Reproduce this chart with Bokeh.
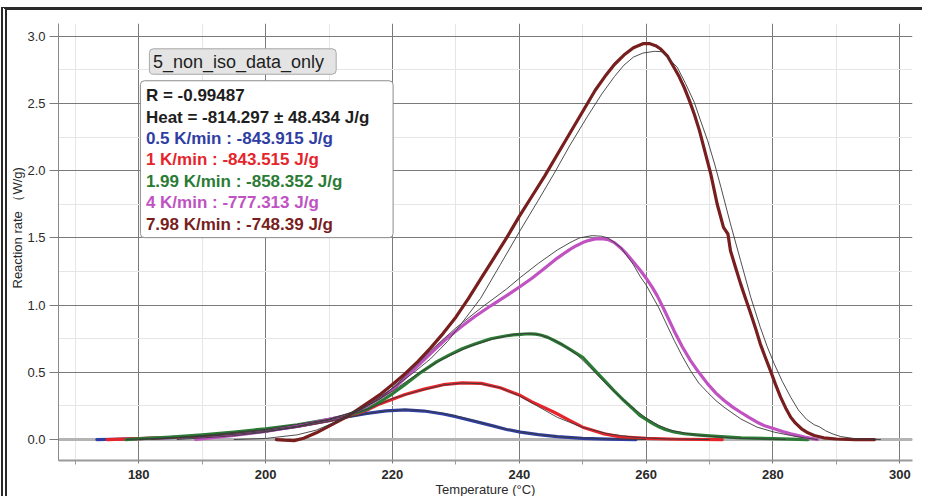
from bokeh.plotting import figure
from bokeh.models import Range1d, FixedTicker, PrintfTickFormatter, Span, BoxAnnotation, Label, Title
from bokeh.embed import file_html
from bokeh.resources import INLINE

# ---------------- data ----------------
series_names = ["0.5 K/min", "1 K/min", "1.99 K/min", "4 K/min", "7.98 K/min"]
series_heat = ["-843.915 J/g", "-843.515 J/g", "-858.352 J/g", "-777.313 J/g", "-748.39 J/g"]
r_text = "R = -0.99487"
heat_text = "Heat = -814.297 \u00b1 48.434 J/g"
title_text = "5_non_iso_data_only"
x_title = "Temperature (\u00b0C)"
y_title = "Reaction rate \uff08W/g)"

# measured curves (thick, coloured)
blue_T = [173.4, 176, 180, 185, 190, 195, 200, 205, 210, 213, 216, 219, 222, 225, 228, 230, 233, 236, 238, 240.2, 243, 246, 250, 254, 258.4]
blue_R = [0.0, 0.002, 0.006, 0.014, 0.025, 0.042, 0.065, 0.098, 0.14, 0.17, 0.195, 0.213, 0.221, 0.212, 0.19, 0.17, 0.135, 0.1, 0.075, 0.055, 0.036, 0.021, 0.008, 0.003, 0.0]

red_T = [175, 180, 185, 190, 195, 200, 205, 210, 213, 216, 218, 220, 222, 225, 228, 231, 234, 237, 240.2, 242, 245.5, 248, 250, 253.4, 256, 260, 265, 272]
red_R = [0.0, 0.006, 0.015, 0.028, 0.045, 0.07, 0.1, 0.142, 0.172, 0.22, 0.265, 0.3, 0.335, 0.375, 0.408, 0.422, 0.418, 0.385, 0.327, 0.28, 0.203, 0.14, 0.092, 0.042, 0.02, 0.008, 0.002, 0.0]

green_T = [178, 180, 185, 190, 195, 200, 205, 210, 213, 216, 218, 220, 222, 224.5, 227, 229, 231, 233, 235.5, 238, 239, 240.2, 241, 241.8, 242.6, 243.5, 244.5, 245.5, 246.8, 248, 250, 251.8, 253.4, 255, 256.5, 258, 259, 260, 261, 262, 263, 264.4, 266, 268, 270, 275, 280, 285.5]
green_R = [0.0, 0.006, 0.018, 0.035, 0.056, 0.08, 0.11, 0.15, 0.178, 0.225, 0.28, 0.34, 0.41, 0.5, 0.58, 0.63, 0.675, 0.71, 0.75, 0.772, 0.778, 0.782, 0.785, 0.786, 0.784, 0.776, 0.76, 0.737, 0.705, 0.67, 0.612, 0.52, 0.44, 0.36, 0.29, 0.225, 0.18, 0.15, 0.12, 0.095, 0.075, 0.056, 0.043, 0.034, 0.027, 0.013, 0.006, 0.0]

magenta_T = [189, 192, 195, 200, 205, 210, 213, 216, 218.2, 220, 223.4, 226, 228.5, 231, 233, 235.5, 238, 240.2, 242, 244, 246, 248, 249, 250, 251, 252, 253, 254, 255, 256, 257, 258, 259.1, 260, 261, 261.8, 263, 264.4, 265.7, 267, 268.3, 269.7, 271, 272.3, 273.6, 274.9, 276.2, 277.5, 278.8, 280.2, 281.5, 282.8, 285, 287]
magenta_R = [0.0, 0.015, 0.03, 0.06, 0.1, 0.15, 0.18, 0.25, 0.315, 0.37, 0.52, 0.64, 0.75, 0.845, 0.915, 0.995, 1.07, 1.14, 1.2, 1.275, 1.35, 1.415, 1.442, 1.465, 1.482, 1.493, 1.495, 1.487, 1.465, 1.425, 1.377, 1.32, 1.257, 1.2, 1.13, 1.065, 0.95, 0.81, 0.69, 0.587, 0.5, 0.414, 0.345, 0.29, 0.243, 0.203, 0.165, 0.129, 0.1, 0.08, 0.06, 0.042, 0.018, 0.0]

darkred_T = [201.7, 203, 204.5, 206, 208, 210, 213, 216, 218.2, 220, 222, 224, 226, 228, 230, 232, 234, 236, 238, 240, 242, 244, 246, 248, 250, 252, 253.5, 255, 256.5, 258, 259.5, 260.5, 261.5, 262.3, 263.4, 264.4, 265.2, 266, 266.8, 267.6, 268.4, 269.1, 270.2, 271.2, 272.2, 272.9, 273.3, 274.1, 274.9, 275.7, 276.5, 277.3, 278.0, 278.8, 279.6, 280.4, 281.2, 282, 282.8, 283.6, 284.5, 285.5, 286.5, 288, 290, 293, 296]
darkred_R = [0.0, -0.005, -0.008, 0.01, 0.05, 0.1, 0.175, 0.27, 0.34, 0.41, 0.49, 0.58, 0.68, 0.79, 0.91, 1.05, 1.2, 1.35, 1.5, 1.66, 1.81, 1.96, 2.12, 2.28, 2.44, 2.6, 2.7, 2.79, 2.86, 2.915, 2.945, 2.946, 2.93, 2.905, 2.85, 2.768, 2.7, 2.62, 2.525, 2.42, 2.3, 2.173, 1.975, 1.752, 1.578, 1.529, 1.405, 1.28, 1.158, 1.045, 0.935, 0.82, 0.712, 0.61, 0.513, 0.41, 0.315, 0.235, 0.166, 0.12, 0.08, 0.05, 0.03, 0.013, 0.004, 0.0, 0.0]

# fitted / simulated curves (thin, black)
blue_fit_T = [178, 185, 190, 195, 200, 205, 210, 213, 216, 219, 222, 225, 228, 231, 234, 237, 240, 244, 248, 252, 256, 260]
blue_fit_R = [0.0, 0.012, 0.022, 0.038, 0.06, 0.092, 0.135, 0.165, 0.192, 0.212, 0.222, 0.215, 0.195, 0.165, 0.125, 0.088, 0.058, 0.032, 0.016, 0.008, 0.003, 0.0]

red_fit_T = [180, 190, 200, 205, 210, 213, 216, 220, 224, 228, 231, 234, 237, 240, 243, 246, 250, 254, 258, 263, 270]
red_fit_R = [0.0, 0.025, 0.068, 0.1, 0.145, 0.18, 0.225, 0.305, 0.36, 0.405, 0.42, 0.415, 0.385, 0.325, 0.245, 0.165, 0.09, 0.042, 0.018, 0.005, 0.0]

green_fit_T = [182, 190, 200, 210, 215, 220, 224, 228, 232, 236, 239, 241, 243, 245, 247, 249, 251, 254, 257, 260, 262, 264, 268, 274, 282]
green_fit_R = [0.0, 0.03, 0.075, 0.15, 0.22, 0.36, 0.49, 0.6, 0.69, 0.75, 0.78, 0.79, 0.782, 0.75, 0.7, 0.635, 0.545, 0.4, 0.27, 0.16, 0.105, 0.068, 0.032, 0.01, 0.0]

magenta_fit_T = [186, 190, 195, 200, 205, 210, 214, 218, 222, 226, 230, 234, 238, 240.2, 243, 246, 248, 249.5, 251.5, 253, 254, 256, 258, 259.1, 260, 262, 264.4, 265.7, 267, 268.3, 269.7, 271, 272.3, 274.9, 277.5, 280.2, 282.8, 285, 287]
magenta_fit_R = [0.0, 0.012, 0.028, 0.055, 0.095, 0.15, 0.21, 0.3, 0.47, 0.66, 0.83, 0.98, 1.12, 1.207, 1.31, 1.41, 1.465, 1.5, 1.517, 1.512, 1.5, 1.43, 1.3, 1.21, 1.15, 0.98, 0.74, 0.62, 0.512, 0.42, 0.35, 0.29, 0.24, 0.154, 0.092, 0.055, 0.03, 0.012, 0.0]

darkred_fit_T = [195, 200, 205, 208, 212, 216, 220, 223.4, 226, 228.7, 231, 233.9, 237, 240.2, 243, 245.5, 248, 250.7, 253, 255, 256.5, 258, 259.5, 261.3, 262.5, 263.9, 264.9, 266.2, 267.6, 268.6, 269.7, 270.8, 271.8, 273.3, 274.9, 276.5, 278.0, 279.1, 280.2, 281.5, 282.8, 284, 285.3, 286.5, 287.3, 288.3, 289.5, 290.7, 293, 297]
darkred_fit_R = [0.0, 0.008, 0.035, 0.07, 0.15, 0.25, 0.38, 0.5, 0.6, 0.73, 0.87, 1.05, 1.3, 1.56, 1.78, 1.98, 2.19, 2.4, 2.57, 2.7, 2.785, 2.845, 2.875, 2.888, 2.885, 2.818, 2.77, 2.65, 2.508, 2.37, 2.223, 2.05, 1.876, 1.604, 1.331, 1.058, 0.835, 0.69, 0.563, 0.43, 0.315, 0.22, 0.15, 0.11, 0.095, 0.065, 0.04, 0.022, 0.005, 0.0]

x_ticks = [180, 200, 220, 240, 260, 280, 300]
x_minor = [170, 190, 210, 230, 250, 270, 290]
y_ticks = [0.0, 0.5, 1.0, 1.5, 2.0, 2.5, 3.0]
y_minor = [0.25, 0.75, 1.25, 1.75, 2.25, 2.75]

colors = ["#2f3ea3", "#e5252b", "#2b7b35", "#c052c2", "#781e1e"]

# ---------------- figure ----------------
X0, X1 = 167.35, 302.0
Y0, Y1 = -0.156, 3.095
W, H = 921, 489
p = figure(width=W, height=H, output_backend="svg", toolbar_location=None,
           x_range=Range1d(X0, X1), y_range=Range1d(Y0, Y1),
           min_border_left=50, min_border_right=16, min_border_top=13, min_border_bottom=39)
p.styles = {"margin-top": "7px", "margin-left": "1px",
            "border-top": "3px solid #2a2a2a", "border-left": "6px double #2a2a2a"}
p.outline_line_color = None
p.background_fill_color = "white"
p.border_fill_color = "white"

FONT = "Liberation Sans"

p.xaxis.ticker = FixedTicker(ticks=x_ticks, minor_ticks=x_minor)
p.yaxis.ticker = FixedTicker(ticks=y_ticks, minor_ticks=y_minor)
p.xgrid.ticker = FixedTicker(ticks=x_ticks, minor_ticks=x_minor)
p.ygrid.ticker = FixedTicker(ticks=y_ticks, minor_ticks=y_minor)
p.yaxis.formatter = PrintfTickFormatter(format="%.1f")

for g in (p.xgrid, p.ygrid):
    g.grid_line_color = "#7a7a7a"
    g.grid_line_width = 1
    g.minor_grid_line_color = "#e6e6e6"
    g.minor_grid_line_width = 1

p.xaxis.axis_line_color = "#9a9a9a"
p.xaxis.axis_line_width = 2
p.xaxis.major_tick_line_color = "#7a7a7a"
p.xaxis.minor_tick_line_color = "#9a9a9a"
p.xaxis.major_tick_out = 3
p.xaxis.major_tick_in = 0
p.xaxis.minor_tick_out = 4
p.xaxis.minor_tick_in = 0
p.xaxis.major_label_standoff = 5
p.xaxis.major_label_text_font = FONT
p.xaxis.major_label_text_font_style = "bold"
p.xaxis.major_label_text_font_size = "13px"
p.xaxis.major_label_text_color = "#2a2a2a"
p.xaxis.axis_label = x_title
p.xaxis.axis_label_text_font = FONT
p.xaxis.axis_label_text_font_style = "normal"
p.xaxis.axis_label_text_font_size = "13px"
p.xaxis.axis_label_text_color = "#2a2a2a"
p.xaxis.axis_label_standoff = 0

p.yaxis.axis_line_color = "#8a8a8a"
p.yaxis.axis_line_width = 1
p.yaxis.major_tick_line_color = "#7a7a7a"
p.yaxis.major_tick_out = 9
p.yaxis.major_tick_in = 0
p.yaxis.minor_tick_out = 0
p.yaxis.minor_tick_in = 0
p.yaxis.major_label_standoff = 4
p.yaxis.major_label_text_font = FONT
p.yaxis.major_label_text_font_size = "13px"
p.yaxis.major_label_text_color = "#2a2a2a"

# y-axis title as a side title, shifted upward like the original
p.add_layout(Title(text=y_title, align="left", offset=172, standoff=0,
                   text_font=FONT, text_font_size="13px", text_font_style="normal",
                   text_color="#2a2a2a"), "left")

zero = Span(location=0, dimension="width", line_color="#b4b4b4", line_width=3, level="underlay")
p.add_layout(zero)

meas = [(blue_T, blue_R), (red_T, red_R), (green_T, green_R), (magenta_T, magenta_R), (darkred_T, darkred_R)]
fits = [(blue_fit_T, blue_fit_R), (red_fit_T, red_fit_R), (green_fit_T, green_fit_R),
        (magenta_fit_T, magenta_fit_R), (darkred_fit_T, darkred_fit_R)]

for (t, r), c in zip(meas, colors):
    p.line(t, r, line_color=c, line_width=3.2, line_join="round", line_cap="round")
for t, r in fits:
    p.line(t, r, line_color="#3a3a3a", line_width=0.9, line_join="round")

# ---------------- legend boxes (positions given in page pixels) ----------------
FL, FR, FT, FB = 57.0, 912.0, 22.7, 460.0   # frame edges in page pixels
def dx(px):
    return X0 + (px - FL) / (FR - FL) * (X1 - X0)
def dy(py):
    return Y1 - (py - FT) / (FB - FT) * (Y1 - Y0)

p.add_layout(BoxAnnotation(left=dx(148), right=dx(335), top=dy(48), bottom=dy(73.5),
                           fill_color="#e4e4e4", fill_alpha=1, line_color="#a8a8a8",
                           line_alpha=1, line_width=1, border_radius=4, level="overlay"))
p.add_layout(BoxAnnotation(left=dx(139), right=dx(392), top=dy(80), bottom=dy(237),
                           fill_color="white", fill_alpha=1, line_color="#8c8c8c",
                           line_alpha=1, line_width=1, border_radius=4, level="overlay"))

p.add_layout(Label(x=dx(151.5), y=dy(61.5), text=title_text, text_font=FONT,
                   text_font_size="18px", text_color="#1e1e1e", text_baseline="middle",
                   level="overlay"))

lines = [(r_text, "#1e1e1e"), (heat_text, "#1e1e1e")]
for nm, ht, c in zip(series_names, series_heat, colors):
    lines.append((nm + " : " + ht, c))
ys = [95, 116.5, 138, 159, 180.5, 202, 223.5]
for (txt, c), yy in zip(lines, ys):
    p.add_layout(Label(x=dx(144.5), y=dy(yy), text=txt, text_font=FONT,
                       text_font_size="17px", text_font_style="bold", text_color=c,
                       text_baseline="middle", level="overlay"))

open("out.html", "w").write(file_html(p, INLINE))
